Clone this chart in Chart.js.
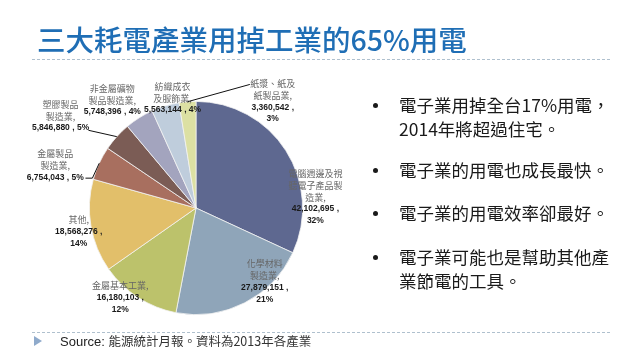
<!DOCTYPE html>
<html>
<head>
<meta charset="utf-8">
<script src="https://cdn.jsdelivr.net/npm/chart.js@4/dist/chart.umd.min.js"></script>
<style>
  html, body { margin: 0; padding: 0; background: #fff; }
  #wrap { position: relative; width: 638px; height: 359px; overflow: hidden; background: #fff; }
  #c { position: absolute; left: 0; top: 0; }
  .title { position: absolute; left: 37px; top: 25px; font-family: "Noto Sans CJK TC", sans-serif; font-weight: 500; font-size: 28.5px; line-height: 28px; color: #1F6EB5; white-space: nowrap; }
  .rule { position: absolute; left: 32px; width: 578px; height: 0; border-top: 1px dashed #AFC0CE; }
  .bullet { position: absolute; left: 372px; font-family: "Noto Sans CJK TC", sans-serif; font-size: 17.5px; line-height: 24px; color: #1a1a1a; white-space: nowrap; }
  .bullet .dot { position: absolute; left: 1px; top: 10px; width: 5px; height: 5px; border-radius: 50%; background: #1a1a1a; }
  .bullet .txt { position: absolute; left: 27px; top: 0; }
  .src { position: absolute; left: 60px; top: 332px; font-size: 12.5px; line-height: 18px; color: #222; white-space: nowrap; }
  .src .en { font-family: "Liberation Sans", Arial, sans-serif; font-size: 13px; }
  .src .zh { font-family: "Noto Sans CJK TC", sans-serif; color: #333; }
  .tri { position: absolute; left: 34px; top: 336px; width: 0; height: 0; border-top: 5px solid transparent; border-bottom: 5px solid transparent; border-left: 8px solid #8FAACB; }
</style>
</head>
<body>
<div id="wrap">
  <canvas id="c" width="638" height="359"></canvas>
  <div class="title">三大耗電產業用掉工業的65%用電</div>
  <div class="rule" style="top:59px"></div>

  <div class="bullet" style="top:93px"><span class="dot"></span><span class="txt">電子業用掉全台17%用電，<br>2014年將超過住宅。</span></div>
  <div class="bullet" style="top:158px"><span class="dot"></span><span class="txt">電子業的用電也成長最快。</span></div>
  <div class="bullet" style="top:201px"><span class="dot"></span><span class="txt">電子業的用電效率卻最好。</span></div>
  <div class="bullet" style="top:245px"><span class="dot"></span><span class="txt">電子業可能也是幫助其他產<br>業節電的工具。</span></div>

  <div class="rule" style="top:332px"></div>
  <div class="tri"></div>
  <div class="src"><span class="en">Source: </span><span class="zh">能源統計月報。資料為2013年各產業</span></div>
</div>

<script>
// ---- data ----
const categories = ['電腦週邊及視聽電子產品製造業', '化學材料製造業', '金屬基本工業', '其他', '金屬製品製造業', '塑膠製品製造業', '非金屬礦物製品製造業', '紡織成衣及服飾業', '紙漿、紙及紙製品業'];
const values = [42102695, 27879151, 16180103, 18568276, 6754043, 5846880, 5748396, 5563144, 3360542];
const percentLabels = ['32%', '21%', '12%', '14%', '5%', '5%', '4%', '4%', '3%'];
const nameLines = [
  ['電腦週邊及視', '聽電子產品製', '造業,'],
  ['化學材料', '製造業,'],
  ['金屬基本工業,'],
  ['其他,'],
  ['金屬製品', '製造業,'],
  ['塑膠製品', '製造業,'],
  ['非金屬礦物', '製品製造業,'],
  ['紡織成衣', '及服飾業,'],
  ['紙漿、紙及', '紙製品業,']
];

// ---- styling / layout ----
const colors = ['#5E6890', '#8FA5B9', '#BCC26B', '#E2BF6A', '#A86F5F', '#7B5C55', '#A3A4BE', '#BFCDDC', '#DCE0A3'];
const pctOnSameLine = [false, false, false, false, true, true, true, true, false];
// label block centre relative to pie centre, in units of radius
const labelOffsets = [[1.12, -0.10], [0.645, 0.69], [-0.71, 0.84], [-1.10, 0.22], [-1.32, -0.40], [-1.27, -0.86], [-0.785, -1.01], [-0.22, -1.03], [0.72, -1.0]];
// leader line points (radius units) drawn from slice edge
const leaders = {4: [[-0.972, -0.28], [-1.037, -0.28]], 5: [[-1.009, -0.729]], 8: [[0.505, -1.159]]};

const labelPlugin = {
  id: 'sliceLabels',
  afterDatasetsDraw(chart) {
    const ctx = chart.ctx;
    const meta = chart.getDatasetMeta(0);
    ctx.save();
    meta.data.forEach((arc, i) => {
      const p = arc.getProps(['x', 'y', 'startAngle', 'endAngle', 'outerRadius'], true);
      const R = p.outerRadius;
      if (leaders[i]) {
        const mid = (p.startAngle + p.endAngle) / 2;
        ctx.beginPath();
        ctx.moveTo(p.x + Math.cos(mid) * R, p.y + Math.sin(mid) * R);
        leaders[i].forEach(pt => ctx.lineTo(p.x + pt[0] * R, p.y + pt[1] * R));
        ctx.strokeStyle = '#111';
        ctx.lineWidth = 1;
        ctx.stroke();
      }
      const lines = nameLines[i].map(t => ({t, zh: true}));
      const num = values[i].toLocaleString('en-US') + ' ,';
      if (pctOnSameLine[i]) {
        lines.push({t: num + ' ' + percentLabels[i], zh: false});
      } else {
        lines.push({t: num, zh: false});
        lines.push({t: percentLabels[i], zh: false});
      }
      const lh = 11.8;
      const cx = p.x + labelOffsets[i][0] * R;
      const cy = p.y + labelOffsets[i][1] * R;
      const y0 = cy - (lines.length - 1) * lh / 2;
      ctx.textAlign = 'center';
      ctx.textBaseline = 'middle';
      lines.forEach((ln, k) => {
        if (ln.zh) {
          ctx.font = '9px "Noto Sans CJK TC", sans-serif';
          ctx.fillStyle = '#666';
        } else {
          ctx.font = 'bold 8.5px "Liberation Sans", sans-serif';
          ctx.fillStyle = '#1a1a1a';
        }
        ctx.fillText(ln.t, cx, y0 + k * lh);
      });
    });
    ctx.restore();
  }
};

new Chart(document.getElementById('c'), {
  type: 'pie',
  data: {
    labels: categories,
    datasets: [{
      data: values,
      backgroundColor: colors,
      borderColor: '#f2f2f2',
      borderWidth: 0.8
    }]
  },
  options: {
    responsive: false,
    animation: false,
    layout: { padding: { left: 89, top: 101, right: 335, bottom: 44 } },
    plugins: { legend: { display: false }, tooltip: { enabled: false } }
  },
  plugins: [labelPlugin]
});
</script>
</body>
</html>
